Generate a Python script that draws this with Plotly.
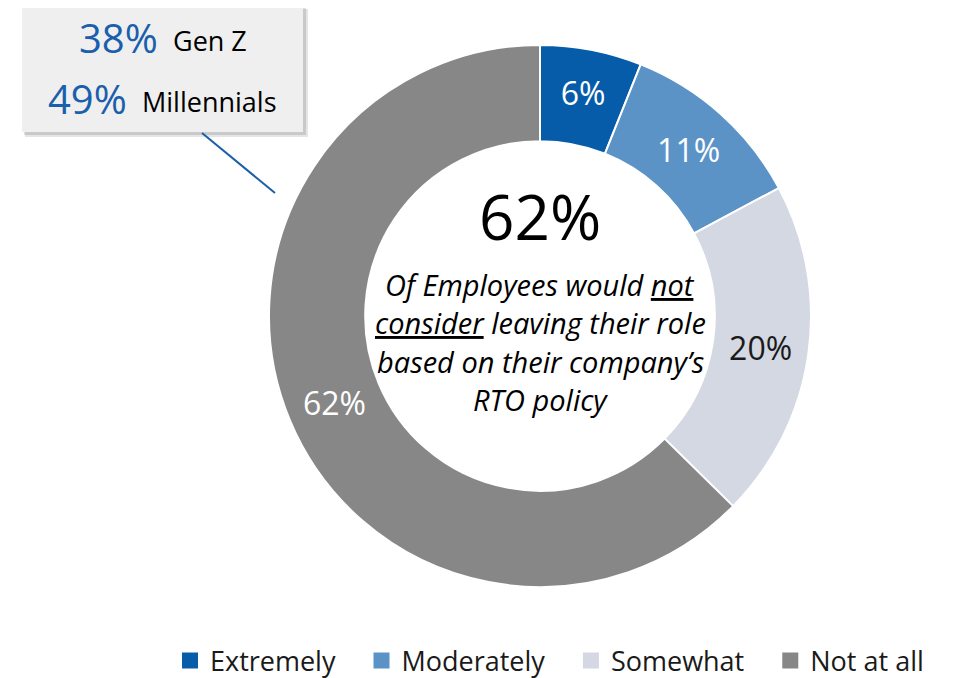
import plotly.graph_objects as go

# data
categories = ["Extremely", "Moderately", "Somewhat", "Not at all"]
shares = [6, 11, 20, 62]
share_labels = ["6%", "11%", "20%", "62%"]
colors = ["#075ca9", "#5b93c7", "#d3d8e3", "#878787"]
label_colors = ["white", "white", "#1a1a1a", "white"]

headline = "62%"
center_lines = [
    "Of Employees would <u>not</u>",
    "<u>consider</u> leaving their role",
    "based on their company\u2019s",
    "RTO policy",
]
callout_pcts = ["38%", "49%"]
callout_groups = ["Gen Z", "Millennials"]

W, H = 953, 678
OFF = 8  # page body margin
FONT = "Open Sans"


def px(x):
    # screen x (as in the reference) -> paper
    return (x - OFF) / W


def py(y):
    return 1 - (y - OFF) / H


fig = go.Figure()
R = 271
fig.add_pie(
    labels=categories, values=shares, text=share_labels,
    textinfo="text", textposition="inside", insidetextorientation="horizontal",
    textfont=dict(size=32, color=label_colors, family=FONT),
    marker=dict(colors=colors, line=dict(color="white", width=2)),
    hole=0.645, sort=False, direction="clockwise", rotation=0,
    domain=dict(x=[px(540 - R), px(540 + R)], y=[py(316 + R), py(316 - R)]),
    showlegend=False, hoverinfo="label+value",
)

# legend entries (square markers)
pad = "\u00a0" * 3
for name, c in zip(categories, colors):
    fig.add_scatter(x=[None], y=[None], mode="markers", name=name + pad,
                    marker=dict(symbol="square", size=16, color=c))

# centre text
fig.add_annotation(x=px(540), y=py(216), xref="paper", yref="paper",
                   xanchor="center", yanchor="middle",
                   text=headline, showarrow=False,
                   font=dict(size=62, color="black", family=FONT))
for i, line in enumerate(center_lines):
    fig.add_annotation(x=px(540), y=py(285 + 38 * i), xref="paper", yref="paper",
                       xanchor="center", yanchor="middle",
                       text=line, showarrow=False,
                       font=dict(size=29, color="black", family=FONT, style="italic"))

# callout box with shadow and leader line
fig.add_shape(type="rect", xref="paper", yref="paper",
              x0=px(25), x1=px(308), y0=py(9), y1=py(137),
              fillcolor="rgba(0,0,0,0.10)", line=dict(width=0), layer="below")
fig.add_shape(type="rect", xref="paper", yref="paper",
              x0=px(24), x1=px(306), y0=py(8), y1=py(135),
              fillcolor="rgba(0,0,0,0.12)", line=dict(width=0), layer="below")
fig.add_shape(type="rect", xref="paper", yref="paper",
              x0=px(22), x1=px(303), y0=py(6), y1=py(132),
              fillcolor="#efefef", line=dict(width=0), layer="below")
fig.add_shape(type="line", xref="paper", yref="paper",
              x0=px(202), y0=py(133), x1=px(275), y1=py(193),
              line=dict(color="#1a5fa8", width=2))
pct_right = [160, 129]
group_left = [171, 140]
for i, (pct, grp) in enumerate(zip(callout_pcts, callout_groups)):
    yy = py(38 + 61 * i)
    fig.add_annotation(x=px(pct_right[i]), y=yy, xref="paper", yref="paper",
                       xanchor="right", yanchor="middle", text=pct, showarrow=False,
                       font=dict(size=40, color="#1a5fad", family=FONT))
    fig.add_annotation(x=px(group_left[i]), y=yy - 3 / H, xref="paper", yref="paper",
                       xanchor="left", yanchor="middle", text=grp, showarrow=False,
                       font=dict(size=27, color="black", family=FONT))

fig.update_layout(
    width=W, height=H,
    margin=dict(l=0, r=0, t=0, b=0),
    paper_bgcolor="white", plot_bgcolor="white",
    font=dict(family=FONT, color="#1a1a1a"),
    xaxis=dict(visible=False), yaxis=dict(visible=False),
    legend=dict(orientation="h", x=px(950), xanchor="right", y=py(661), yanchor="middle",
                font=dict(size=27, color="#1a1a1a", family=FONT),
                bgcolor="rgba(0,0,0,0)"),
)

fig.write_html("out.html")
